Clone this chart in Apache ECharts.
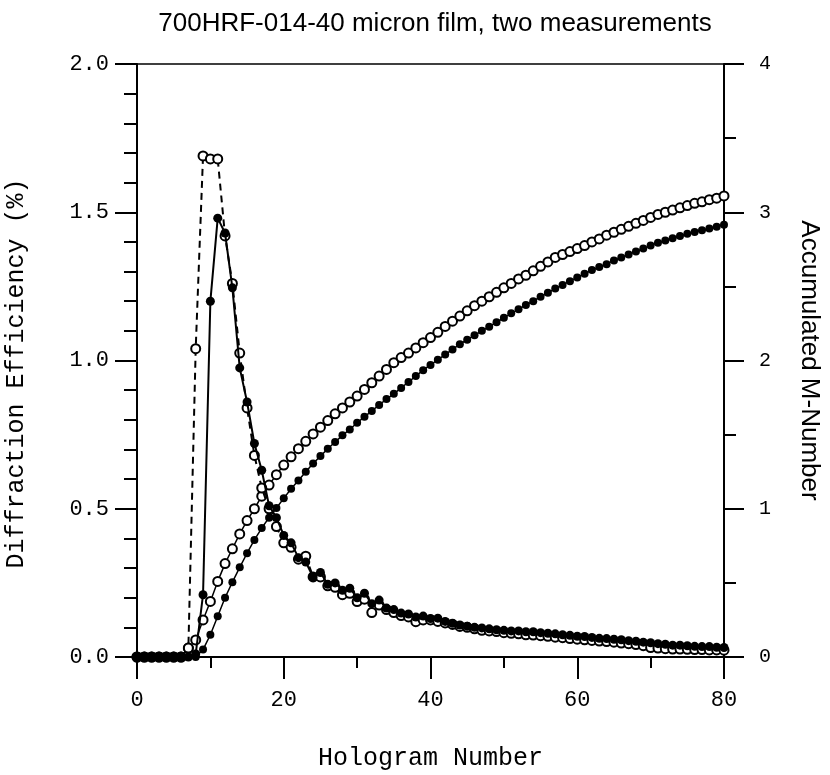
<!DOCTYPE html>
<html>
<head>
<meta charset="utf-8">
<script src="https://cdn.jsdelivr.net/npm/echarts@6/dist/echarts.min.js"></script>
<style>
  html, body { margin: 0; padding: 0; background: #fff; }
  #chart { width: 830px; height: 775px; }
</style>
</head>
<body>
<div id="chart"></div>
<script>
// hologram index (x axis)
const holograms = [0, 1, 2, 3, 4, 5, 6, 7, 8, 9, 10, 11, 12, 13, 14, 15, 16, 17, 18, 19, 20,
  21, 22, 23, 24, 25, 26, 27, 28, 29, 30, 31, 32, 33, 34, 35, 36, 37, 38, 39, 40,
  41, 42, 43, 44, 45, 46, 47, 48, 49, 50, 51, 52, 53, 54, 55, 56, 57, 58, 59, 60,
  61, 62, 63, 64, 65, 66, 67, 68, 69, 70, 71, 72, 73, 74, 75, 76, 77, 78, 79, 80];

// diffraction efficiency (%) - first measurement (open circles, dashed)
const deOpen = [0, 0, 0, 0, 0, 0, 0, 0.03, 1.04, 1.69, 1.68, 1.68, 1.42, 1.26, 1.025, 0.84, 0.68, 0.57, 0.50, 0.44, 0.385,
  0.37, 0.33, 0.34, 0.27, 0.27, 0.24, 0.235, 0.21, 0.215, 0.187, 0.195, 0.15, 0.175, 0.16, 0.15, 0.14, 0.135, 0.119, 0.125, 0.125,
  0.12, 0.115, 0.11, 0.103, 0.10, 0.095, 0.09, 0.088, 0.086, 0.082, 0.08, 0.078, 0.075, 0.074, 0.072, 0.07, 0.067, 0.065, 0.062, 0.06,
  0.058, 0.056, 0.054, 0.052, 0.05, 0.047, 0.045, 0.042, 0.038, 0.032, 0.03, 0.028, 0.027, 0.027, 0.026, 0.025, 0.025, 0.024, 0.024, 0.023];

// diffraction efficiency (%) - second measurement (filled dots, solid)
const deFilled = [0, 0, 0, 0, 0, 0, 0, 0, 0.01, 0.21, 1.20, 1.48, 1.43, 1.245, 0.975, 0.86, 0.72, 0.63, 0.51, 0.47, 0.41,
  0.385, 0.335, 0.32, 0.27, 0.285, 0.245, 0.25, 0.225, 0.232, 0.20, 0.215, 0.18, 0.192, 0.165, 0.16, 0.148, 0.145, 0.135, 0.138, 0.13,
  0.131, 0.12, 0.114, 0.108, 0.104, 0.10, 0.098, 0.095, 0.092, 0.09, 0.088, 0.088, 0.085, 0.085, 0.082, 0.08, 0.078, 0.075, 0.073, 0.07,
  0.069, 0.066, 0.063, 0.062, 0.06, 0.058, 0.055, 0.053, 0.05, 0.048, 0.045, 0.043, 0.04, 0.04, 0.038, 0.036, 0.035, 0.035, 0.033, 0.032];

// accumulated M-number - first measurement (open circles)
const mOpen = [0, 0, 0, 0, 0, 0, 0, 0.06, 0.115, 0.25, 0.375, 0.51, 0.63, 0.73, 0.83, 0.92, 1.00, 1.085, 1.16, 1.23, 1.295,
  1.35, 1.405, 1.455, 1.505, 1.55, 1.595, 1.64, 1.68, 1.72, 1.76, 1.805, 1.85, 1.895, 1.94, 1.985, 2.02, 2.05, 2.085, 2.12, 2.155,
  2.19, 2.23, 2.265, 2.30, 2.335, 2.37, 2.40, 2.43, 2.46, 2.49, 2.52, 2.55, 2.575, 2.605, 2.635, 2.665, 2.695, 2.715, 2.735, 2.755,
  2.775, 2.80, 2.82, 2.845, 2.865, 2.885, 2.905, 2.925, 2.945, 2.965, 2.985, 3.00, 3.015, 3.03, 3.045, 3.06, 3.07, 3.085, 3.095, 3.11];

// accumulated M-number - second measurement (filled dots)
const mFilled = [0, 0, 0, 0, 0, 0, 0, 0, 0, 0.05, 0.15, 0.275, 0.40, 0.505, 0.605, 0.70, 0.79, 0.87, 0.94, 1.005, 1.07,
  1.135, 1.19, 1.25, 1.305, 1.355, 1.405, 1.45, 1.495, 1.535, 1.58, 1.62, 1.66, 1.70, 1.74, 1.775, 1.815, 1.855, 1.895, 1.935, 1.97,
  2.005, 2.04, 2.075, 2.11, 2.14, 2.17, 2.20, 2.228, 2.258, 2.288, 2.318, 2.345, 2.375, 2.40, 2.43, 2.457, 2.485, 2.51, 2.535, 2.56,
  2.585, 2.61, 2.63, 2.65, 2.675, 2.695, 2.715, 2.735, 2.755, 2.775, 2.795, 2.81, 2.825, 2.84, 2.855, 2.867, 2.879, 2.891, 2.903, 2.915];

const MONO = 'Liberation Mono';
const SANS = 'Liberation Sans';

const chart = echarts.init(document.getElementById('chart'));

function pairs(ys) {
  return holograms.map((x, i) => [x, ys[i]]);
}

// open circle / filled dot styles
const openMarker = { color: '#fff', borderColor: '#000', borderWidth: 2 };
const filledMarker = { color: '#000', borderColor: '#000', borderWidth: 0 };

const option = {
  backgroundColor: '#fff',
  animation: false,
  title: {
    text: '700HRF-014-40 micron film, two measurements',
    left: 430,
    top: 6,
    textAlign: 'center',
    textStyle: { fontFamily: SANS, fontSize: 26, fontWeight: 'normal', color: '#000' }
  },
  grid: {
    left: 137, right: 106, top: 64, bottom: 118,
    outerBoundsMode: 'none',
    show: true, borderColor: '#000', borderWidth: 1.5, backgroundColor: 'transparent'
  },
  xAxis: {
    type: 'value', min: 0, max: 80, interval: 20,
    name: 'Hologram Number', nameLocation: 'middle', nameGap: 88,
    nameTextStyle: { fontFamily: MONO, fontSize: 25, color: '#000', lineHeight: 26 },
    axisLine: { show: true, lineStyle: { color: '#000', width: 2 } },
    axisTick: { show: true, length: 22, lineStyle: { color: '#000', width: 2 } },
    minorTick: { show: true, splitNumber: 2, length: 11, lineStyle: { color: '#000', width: 2 } },
    axisLabel: { margin: 32, fontFamily: MONO, fontSize: 22, color: '#000' },
    splitLine: { show: false }
  },
  yAxis: [
    {
      type: 'value', min: 0, max: 2, interval: 0.5, position: 'left',
      name: 'Diffraction Efficiency (%)', nameLocation: 'middle', nameGap: 108, nameRotate: 90,
      nameTextStyle: { fontFamily: MONO, fontSize: 25, color: '#000', padding: [0, 26, 0, 0] },
      axisLine: { show: true, lineStyle: { color: '#000', width: 2 } },
      axisTick: { show: true, length: 22, lineStyle: { color: '#000', width: 2 } },
      minorTick: { show: true, splitNumber: 5, length: 13, lineStyle: { color: '#000', width: 2 } },
      axisLabel: { margin: 28, fontFamily: MONO, fontSize: 22, color: '#000', formatter: v => v.toFixed(1) },
      splitLine: { show: false }
    },
    {
      type: 'value', min: 0, max: 4, interval: 1, position: 'right',
      name: 'Accumulated M-Number', nameLocation: 'middle', nameGap: 72, nameRotate: -90,
      nameTextStyle: { fontFamily: SANS, fontSize: 26, color: '#000' },
      axisLine: { show: true, lineStyle: { color: '#000', width: 2 } },
      axisTick: { show: true, length: 20, lineStyle: { color: '#000', width: 2 } },
      minorTick: { show: true, splitNumber: 2, length: 12, lineStyle: { color: '#000', width: 2 } },
      axisLabel: { margin: 35, fontFamily: MONO, fontSize: 20, color: '#000' },
      splitLine: { show: false }
    }
  ],
  series: [
    {
      name: 'M first', type: 'line', yAxisIndex: 1, data: pairs(mOpen),
      symbol: 'circle', symbolSize: 9, showAllSymbol: true,
      lineStyle: { color: '#000', width: 1.5 }, itemStyle: openMarker, z: 2
    },
    {
      name: 'M second', type: 'line', yAxisIndex: 1, data: pairs(mFilled),
      symbol: 'circle', symbolSize: 8, showAllSymbol: true,
      lineStyle: { color: '#000', width: 1.5 }, itemStyle: filledMarker, z: 2
    },
    {
      name: 'DE first', type: 'line', yAxisIndex: 0, data: pairs(deOpen),
      symbol: 'circle', symbolSize: 9, showAllSymbol: true,
      lineStyle: { color: '#000', width: 2, type: [7, 5] }, itemStyle: openMarker, z: 3
    },
    {
      name: 'DE second', type: 'line', yAxisIndex: 0, data: pairs(deFilled),
      symbol: 'circle', symbolSize: 9, showAllSymbol: true,
      lineStyle: { color: '#000', width: 2 }, itemStyle: filledMarker, z: 4
    }
  ]
};

chart.setOption(option);
</script>
</body>
</html>
